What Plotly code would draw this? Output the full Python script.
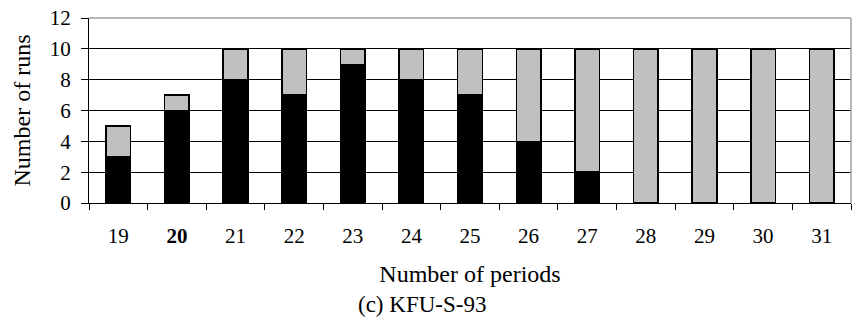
import plotly.graph_objects as go

# Runs per period count, split into the two outcome groups
periods = ["19", "20", "21", "22", "23", "24", "25", "26", "27", "28", "29", "30", "31"]
tick_labels = ["19", "<b>20</b>", "21", "22", "23", "24", "25", "26", "27", "28", "29", "30", "31"]
runs_black = [3, 6, 8, 7, 9, 8, 7, 4, 2, 0, 0, 0, 0]
runs_gray = [2, 1, 2, 3, 1, 2, 3, 6, 8, 10, 10, 10, 10]

FONT = "Liberation Serif, Times New Roman, serif"

fig = go.Figure()
fig.add_trace(go.Bar(x=periods, y=runs_black, marker=dict(color="#000000", line=dict(color="#000000", width=1.5))))
fig.add_trace(go.Bar(x=periods, y=runs_gray, marker=dict(color="#c0c0c0", line=dict(color="#000000", width=1.5))))

fig.update_layout(
    barmode="stack",
    bargap=0.58,
    width=852, height=325,
    margin=dict(l=89, r=1, t=18, b=122),
    plot_bgcolor="white", paper_bgcolor="white",
    showlegend=False,
    font=dict(family=FONT, size=21, color="black"),
    xaxis=dict(
        type="category",
        tickmode="array", tickvals=periods, ticktext=tick_labels,
        ticks="outside", ticklen=6, tickcolor="black", tickson="boundaries",
        ticklabelstandoff=14,
        showline=True, linecolor="black", linewidth=1,
        showgrid=False,
        title=dict(text="Number of periods", font=dict(size=24), standoff=17),
    ),
    yaxis=dict(
        range=[0, 12], dtick=2,
        ticks="outside", ticklen=7, tickcolor="black",
        ticklabelstandoff=6,
        showline=True, linecolor="black", linewidth=1,
        showgrid=True, gridcolor="black", gridwidth=1,
        zeroline=False,
        title=dict(text="Number of runs", font=dict(size=24), standoff=12),
    ),
    shapes=[
        dict(type="line", xref="paper", yref="paper", x0=0, x1=1, y0=1, y1=1,
             line=dict(color="#a0a0a0", width=1.5)),
        dict(type="line", xref="paper", yref="paper", x0=1, x1=1, y0=0, y1=1,
             line=dict(color="#a0a0a0", width=1.5)),
    ],
    annotations=[
        dict(text="(c) KFU-S-93", xref="paper", yref="paper", x=0.437, y=-0.551,
             xanchor="center", yanchor="middle", showarrow=False,
             font=dict(family=FONT, size=23, color="black")),
    ],
)

fig.write_html("out.html")
